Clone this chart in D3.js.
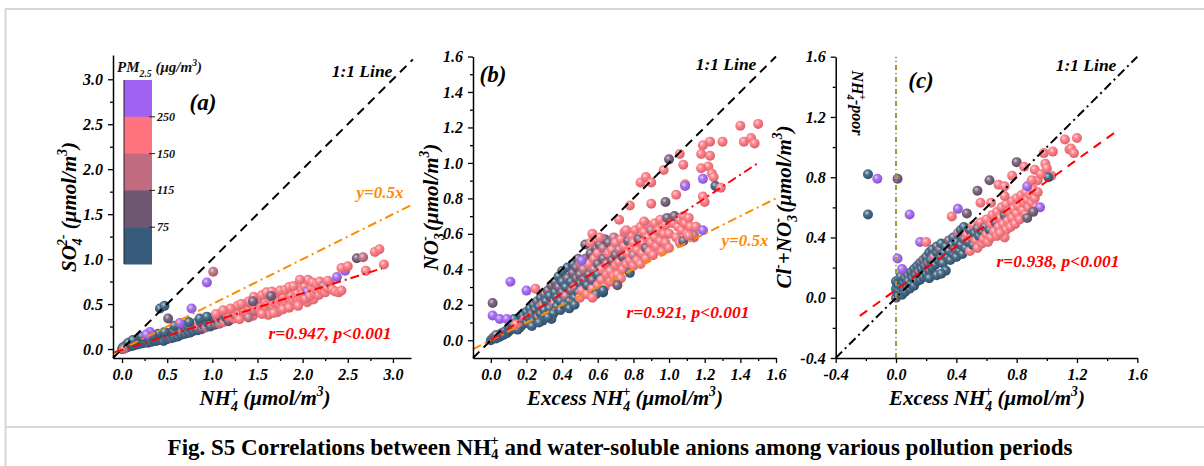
<!DOCTYPE html>
<html><head><meta charset="utf-8">
<script src="https://cdn.jsdelivr.net/npm/d3@7"></script>
<style>
body{margin:0;background:#fff;}
svg text{font-family:"Liberation Serif","Times New Roman",serif;}
</style></head><body>
<div id="chart"></div>
<script>
// PM2.5 classes: 0 <75, 1 75-115, 2 115-150, 3 150-250, 4 >250
const pmColors = ["#365b7b", "#6f5673", "#c26a80", "#ff737e", "#a062f0"];
const pmBreaks = ["75", "115", "150", "250"];

const ticksA = [0, 0.5, 1, 1.5, 2, 2.5, 3];
const minorA = [0.25, 0.75, 1.25, 1.75, 2.25, 2.75];
const ticksB = [0, 0.2, 0.4, 0.6, 0.8, 1.0, 1.2, 1.4, 1.6];
const minorB = [0.1, 0.3, 0.5, 0.7, 0.9, 1.1, 1.3, 1.5];
const ticksC = [-0.4, 0, 0.4, 0.8, 1.2, 1.6];
const minorC = [-0.2, 0.2, 0.6, 1.0, 1.4];

// panel (a): NH4+ vs SO4 2-   [x, y, class]
const pointsA = [
 [0.00,0.00,0],[0.01,0.02,0],[0.03,0.01,0],[0.04,0.03,0],[0.05,0.05,1],[0.06,0.02,0],[0.08,0.04,0],[0.09,0.06,0],
 [0.10,0.03,0],[0.11,0.05,0],[0.12,0.07,2],[0.13,0.04,0],[0.15,0.06,0],[0.16,0.08,0],[0.17,0.05,0],[0.19,0.07,0],
 [0.20,0.09,1],[0.21,0.06,0],[0.23,0.08,0],[0.24,0.10,0],[0.25,0.07,0],[0.27,0.09,0],[0.28,0.11,1],[0.29,0.07,0],
 [0.30,0.10,0],[0.02,0.00,2],[0.07,0.07,0],[0.14,0.09,0],[0.12,0.10,0],[0.22,0.14,0],
 [0.32,0.12,0],[0.33,0.08,0],[0.35,0.10,0],[0.36,0.13,1],[0.38,0.09,0],[0.39,0.12,0],[0.41,0.14,0],[0.42,0.10,0],
 [0.44,0.12,1],[0.45,0.15,0],[0.46,0.09,0],[0.48,0.13,0],[0.49,0.16,2],[0.50,0.11,0],[0.52,0.14,0],[0.53,0.18,0],
 [0.55,0.12,1],[0.56,0.16,0],[0.57,0.20,0],[0.58,0.13,0],[0.60,0.17,1],[0.40,0.17,0],[0.47,0.19,0],[0.34,0.15,0],
 [0.62,0.14,0],[0.63,0.19,0],[0.64,0.22,1],[0.66,0.16,0],[0.67,0.20,2],[0.69,0.24,0],[0.70,0.17,0],[0.72,0.21,1],
 [0.73,0.25,0],[0.75,0.18,0],[0.76,0.23,0],[0.78,0.27,2],[0.79,0.20,0],[0.81,0.24,1],[0.82,0.29,0],[0.84,0.21,0],
 [0.85,0.26,3],[0.87,0.30,0],[0.88,0.22,1],[0.90,0.27,0],[0.91,0.32,0],[0.93,0.24,2],[0.95,0.29,0],[0.96,0.33,1],
 [0.98,0.25,0],[1.00,0.30,3],[1.01,0.35,0],[1.03,0.27,1],[1.05,0.32,0],[1.06,0.36,3],[1.08,0.28,2],[1.10,0.33,0],
 [1.11,0.38,1],[1.13,0.30,3],[1.15,0.35,0],[1.17,0.40,3],[1.18,0.31,1],[1.20,0.36,3],[0.74,0.30,0],[0.86,0.34,0],
 [0.94,0.36,0],[1.04,0.39,3],[0.58,0.26,0],
 [1.22,0.41,3],[1.24,0.34,3],[1.25,0.38,2],[1.27,0.43,3],[1.29,0.36,3],[1.31,0.40,3],[1.33,0.45,3],[1.35,0.38,1],
 [1.36,0.42,3],[1.38,0.47,3],[1.40,0.40,3],[1.42,0.44,3],[1.44,0.49,3],[1.45,0.37,3],[1.47,0.42,2],[1.49,0.46,3],
 [1.51,0.51,3],[1.53,0.44,3],[1.55,0.48,3],[1.57,0.53,3],[1.58,0.41,3],[1.60,0.46,3],[1.62,0.50,3],[1.64,0.55,3],
 [1.65,0.44,2],[1.67,0.48,3],[1.69,0.52,3],[1.71,0.57,3],[1.72,0.41,3],[1.74,0.50,3],[1.76,0.54,3],[1.78,0.58,3],
 [1.80,0.47,3],[1.82,0.52,3],[1.84,0.56,3],[1.86,0.60,3],[1.88,0.50,3],[1.90,0.54,3],[1.92,0.58,3],[1.94,0.62,3],
 [1.96,0.53,3],[1.98,0.57,3],[1.99,0.66,3],[1.62,0.38,3],[1.70,0.62,3],[1.50,0.56,3],[1.39,0.52,3],[1.28,0.48,3],
 [1.32,0.50,3],[1.41,0.53,3],[1.46,0.58,3],[1.55,0.60,3],[1.60,0.63,3],[1.66,0.64,3],[1.75,0.65,3],[1.81,0.66,3],
 [1.85,0.69,3],[1.90,0.70,3],[1.55,0.39,3],[1.68,0.40,3],[1.78,0.44,3],[1.85,0.46,3],[1.95,0.48,3],[2.05,0.52,3],
 [2.12,0.55,3],[1.30,0.33,3],[1.40,0.35,2],[1.20,0.45,3],[1.12,0.43,3],[1.65,0.59,1],[1.45,0.53,1],
 [2.00,0.61,3],[2.02,0.70,3],[2.03,0.56,3],[2.05,0.64,4],[2.06,0.77,3],[2.08,0.59,3],[2.10,0.68,3],[2.11,0.74,3],
 [2.13,0.62,3],[2.15,0.66,3],[2.16,0.72,3],[2.18,0.60,3],[2.19,0.75,3],[2.21,0.65,3],[2.23,0.70,2],[2.25,0.63,3],
 [2.27,0.68,3],[2.30,0.73,2],[2.33,0.66,3],[2.36,0.64,3],[2.40,0.63,3],[2.43,0.65,3],[1.97,0.77,3],[2.28,0.76,3],
 [2.38,0.80,4],[2.47,0.87,4],[2.43,0.90,3],[2.50,0.92,3],[2.60,1.01,1],[2.67,1.02,2],[2.70,0.87,3],[2.80,1.08,3],
 [2.85,1.11,3],[2.90,0.94,3],
 [0.42,0.45,0],[0.47,0.48,0],[0.94,0.74,4],[1.01,0.86,2],[0.77,0.45,4],[0.51,0.34,1],[0.64,0.29,4],[0.31,0.19,4],
 [0.27,0.16,4]
];

// panel (b): excess NH4+ vs NO3-
const pointsB = [
 [0.00,0.00,0],[0.01,0.01,0],[0.02,0.02,0],[0.03,0.01,0],[0.04,0.03,0],[0.05,0.02,0],[0.06,0.04,0],[0.07,0.03,0],
 [0.08,0.05,0],[0.09,0.04,0],[0.10,0.07,0],[0.10,0.05,0],[0.03,0.03,1],
 [0.11,0.06,0],[0.12,0.09,0],[0.13,0.07,0],[0.14,0.10,0],[0.15,0.08,0],[0.15,0.12,0],[0.16,0.07,0],[0.17,0.11,0],
 [0.18,0.14,0],[0.18,0.09,0],[0.19,0.12,2],[0.20,0.10,0],[0.20,0.16,0],[0.13,0.12,0],[0.17,0.08,0],[0.15,0.06,0],
 [0.14,0.09,3],[0.21,0.13,0],[0.22,0.18,0],[0.22,0.09,0],[0.23,0.15,1],[0.24,0.20,0],[0.24,0.11,0],[0.25,0.17,0],
 [0.26,0.13,0],[0.26,0.22,1],[0.27,0.19,0],[0.28,0.15,0],[0.28,0.24,0],[0.29,0.11,0],[0.29,0.20,2],[0.30,0.17,0],
 [0.30,0.26,1],[0.23,0.08,0],[0.27,0.10,0],
 [0.31,0.14,0],[0.31,0.22,0],[0.32,0.28,1],[0.33,0.18,0],[0.33,0.25,0],[0.34,0.31,1],[0.35,0.15,0],[0.35,0.21,2],
 [0.36,0.27,0],[0.36,0.33,1],[0.37,0.19,0],[0.37,0.24,0],[0.38,0.30,1],[0.38,0.36,0],[0.39,0.17,0],[0.39,0.22,0],
 [0.40,0.27,1],[0.40,0.33,0],[0.40,0.39,0],[0.34,0.12,0],[0.32,0.13,0],
 [0.41,0.20,0],[0.42,0.25,2],[0.42,0.30,0],[0.43,0.35,1],[0.43,0.41,0],[0.44,0.22,0],[0.45,0.28,1],[0.45,0.33,0],
 [0.46,0.38,1],[0.46,0.43,0],[0.47,0.24,0],[0.47,0.30,2],[0.48,0.35,1],[0.48,0.41,1],[0.49,0.27,0],[0.49,0.46,1],
 [0.50,0.32,0],[0.50,0.37,1],[0.50,0.43,2],[0.44,0.18,0],[0.47,0.20,0],[0.50,0.24,3],
 [0.51,0.28,3],[0.52,0.34,1],[0.52,0.40,2],[0.53,0.46,1],[0.54,0.26,3],[0.54,0.31,0],[0.55,0.37,1],[0.55,0.43,3],
 [0.56,0.49,1],[0.57,0.29,3],[0.57,0.34,1],[0.58,0.40,2],[0.58,0.46,3],[0.59,0.52,1],[0.60,0.31,3],[0.60,0.37,0],
 [0.60,0.43,1],[0.60,0.49,3],[0.53,0.54,1],[0.56,0.55,3],[0.59,0.26,0],[0.57,0.24,3],
 [0.61,0.54,1],[0.62,0.34,3],[0.62,0.40,3],[0.63,0.46,1],[0.63,0.52,2],[0.64,0.30,3],[0.64,0.57,1],[0.65,0.37,3],
 [0.65,0.43,2],[0.66,0.49,3],[0.66,0.55,1],[0.67,0.33,3],[0.67,0.39,3],[0.68,0.45,1],[0.68,0.51,3],[0.69,0.58,2],
 [0.69,0.36,3],[0.70,0.42,3],[0.70,0.48,1],[0.70,0.55,3],[0.63,0.27,0],
 [0.71,0.37,3],[0.72,0.44,3],[0.72,0.51,2],[0.73,0.57,3],[0.74,0.40,3],[0.74,0.47,1],[0.75,0.53,3],[0.75,0.61,3],
 [0.76,0.43,3],[0.77,0.49,3],[0.77,0.56,1],[0.78,0.38,0],[0.78,0.45,3],[0.79,0.52,3],[0.79,0.59,3],[0.80,0.42,3],
 [0.80,0.48,2],[0.80,0.55,3],[0.76,0.62,3],[0.73,0.35,3],
 [0.81,0.62,3],[0.82,0.45,3],[0.82,0.51,3],[0.83,0.57,1],[0.84,0.43,3],[0.84,0.64,3],[0.85,0.49,3],[0.85,0.55,3],
 [0.86,0.61,3],[0.87,0.46,3],[0.87,0.52,1],[0.88,0.58,3],[0.88,0.65,3],[0.89,0.50,3],[0.90,0.55,3],[0.90,0.62,2],
 [0.86,0.67,3],[0.91,0.48,3],[0.92,0.58,3],[0.92,0.66,3],[0.93,0.53,3],[0.94,0.62,3],[0.95,0.56,3],[0.95,0.68,3],
 [0.96,0.50,3],[0.97,0.60,3],[0.98,0.65,3],[0.98,0.55,3],[0.99,0.69,1],[1.00,0.60,3],[1.00,0.52,3],
 [1.02,0.66,3],[1.03,0.70,1],[1.04,0.58,3],[1.05,0.64,3],[1.06,0.68,3],[1.07,0.62,3],[1.08,0.70,3],[1.09,0.66,3],
 [1.10,0.60,3],[1.11,0.69,3],[1.12,0.64,3],[1.14,0.58,3],[1.15,0.64,3],[1.06,0.55,3],
 [1.40,1.21,3],[1.50,1.22,3],[1.42,1.12,3],[1.46,1.14,3],[1.48,1.11,3],[1.30,1.12,3],[1.23,1.12,3],[1.19,1.10,3],
 [1.23,1.04,3],[1.22,0.98,3],[1.18,1.05,3],[1.18,0.97,3],[1.24,0.94,3],[1.25,0.92,3],[1.00,1.02,1],[1.08,0.99,3],
 [1.06,1.05,3],[0.97,0.96,3],[0.84,0.89,3],[0.87,0.92,3],[0.90,0.89,3],[1.09,0.88,3],[1.09,0.87,4],[1.19,0.91,4],
 [1.26,0.87,0],[1.29,0.86,3],[1.04,0.82,3],[1.19,0.81,3],[1.20,0.78,3],[0.90,0.77,3],[0.98,0.78,1],[0.78,0.76,3],
 [0.72,0.68,3],[0.57,0.60,3],[0.61,0.58,3],[0.51,0.45,4],[0.11,0.33,4],[0.20,0.28,4],[0.25,0.29,3],[0.01,0.21,1],
 [0.01,0.14,4],[0.05,0.12,4],[0.09,0.12,4],[1.14,0.59,2],[1.08,0.56,1],[1.11,0.59,3],[1.15,0.64,3],[1.19,0.62,4],
 [0.71,0.31,1],[0.63,0.28,0]
];

// panel (c): excess NH4+ vs Cl- + NO3-
const pointsC = [
 [0.00,0.00,1],[0.01,0.03,0],[0.00,0.06,0],[0.01,0.09,0],[0.00,0.11,0],[0.02,0.05,0],[0.03,0.08,0],[0.02,0.12,0],
 [0.04,0.02,0],[0.03,0.14,0],[0.05,0.06,0],[0.05,0.10,0],[0.06,0.13,0],[0.06,0.04,0],[0.07,0.08,0],[0.08,0.15,1],
 [0.08,0.11,0],[0.09,0.06,0],[0.10,0.17,0],[0.10,0.09,0],[0.11,0.13,0],[0.12,0.19,0],[0.12,0.08,0],[0.13,0.15,0],
 [0.14,0.11,0],[0.14,0.21,0],[0.15,0.17,1],[0.16,0.12,0],[0.16,0.23,0],[0.17,0.19,0],[0.18,0.14,0],[0.18,0.25,1],
 [0.19,0.21,0],[0.20,0.16,0],[0.20,0.27,0],[0.21,0.23,1],[0.22,0.18,0],[0.22,0.30,0],[0.23,0.25,0],[0.24,0.20,0],
 [0.24,0.32,0],[0.25,0.27,2],[0.26,0.22,0],[0.27,0.30,0],[0.27,0.34,0],[0.28,0.25,0],[0.29,0.32,1],[0.30,0.27,0],
 [0.30,0.36,0],[0.31,0.23,0],[0.32,0.30,0],[0.33,0.34,0],[0.33,0.18,0],[0.34,0.27,0],[0.35,0.38,1],[0.35,0.31,0],
 [0.36,0.25,0],[0.37,0.35,0],[0.38,0.29,0],[0.38,0.40,0],[0.39,0.32,1],[0.40,0.27,0],[0.40,0.37,0],[0.41,0.43,2],
 [0.42,0.31,0],[0.43,0.35,0],[0.43,0.45,0],[0.44,0.29,0],[0.45,0.39,1],[0.45,0.47,0],[0.46,0.33,0],[0.47,0.42,3],
 [0.48,0.37,0],[0.49,0.31,3],[0.49,0.45,0],[0.50,0.40,2],[0.51,0.35,0],[0.51,0.48,3],[0.52,0.43,0],[0.53,0.38,3],
 [0.54,0.46,1],[0.54,0.33,3],[0.55,0.41,0],[0.56,0.50,3],[0.57,0.36,3],[0.57,0.44,0],[0.58,0.39,3],[0.59,0.47,1],
 [0.60,0.42,3],[0.60,0.52,3],[0.61,0.37,3],[0.62,0.45,0],[0.63,0.49,3],[0.63,0.40,3],[0.64,0.55,3],[0.65,0.44,3],
 [0.66,0.50,1],[0.67,0.41,3],[0.67,0.57,3],[0.68,0.47,3],[0.69,0.53,3],[0.70,0.43,3],[0.70,0.60,3],[0.71,0.49,3],
 [0.72,0.55,1],[0.73,0.45,3],[0.73,0.62,3],[0.74,0.51,3],[0.75,0.57,3],[0.76,0.47,3],[0.77,0.64,3],[0.77,0.53,3],
 [0.78,0.59,3],[0.79,0.49,3],[0.80,0.56,3],[0.80,0.66,3],[0.81,0.61,3],[0.82,0.52,3],[0.83,0.68,3],[0.84,0.58,3],
 [0.85,0.63,3],[0.86,0.55,3],[0.86,0.70,3],[0.87,0.65,3],[0.88,0.60,3],[0.89,0.68,3],[0.90,0.63,3],[0.91,0.72,3],
 [0.92,0.66,3],[0.93,0.60,3],[0.94,0.70,3],[0.22,0.13,0],[0.27,0.15,0],[0.30,0.16,0],
 [-0.186,0.82,0],[-0.124,0.79,4],[0.01,0.79,1],[-0.186,0.553,0],[0.09,0.553,4],[0.16,0.37,4],[0.20,0.37,3],
 [0.01,0.26,4],[0.04,0.19,4],[0.41,0.59,4],[0.47,0.56,1],[0.37,0.54,3],[0.54,0.71,1],[0.62,0.78,1],[0.68,0.75,3],
 [0.72,0.74,3],[0.77,0.81,3],[0.80,0.90,1],[0.85,0.87,3],[0.87,0.74,4],[0.92,0.85,3],[0.98,0.96,3],[1.04,0.97,3],
 [0.99,0.89,3],[1.00,0.86,3],[1.12,1.05,3],[1.20,1.06,3],[1.15,0.985,3],[1.16,0.99,3],[1.18,0.96,3],[1.03,0.81,3],
 [1.01,0.80,0],[0.955,0.60,4],[0.91,0.57,1],[0.87,0.53,1],[0.56,0.63,3],[0.63,0.63,3],[0.72,0.40,3],[0.69,0.43,3],
 [0.72,0.675,3],[0.94,0.78,3],[0.96,0.82,3],[0.90,0.78,3]
];

// reference and fit lines, [x0, y0, x1, y1]
const lineA11 = [-0.1, -0.1, 3.22, 3.22];
const lineAhalf = [-0.1, -0.05, 3.2, 1.6];
const lineAfit = [-0.08, -0.035, 2.88, 0.897];
const lineB11 = [-0.1, -0.1, 1.6, 1.6];
const lineBhalf = [-0.1, -0.05, 1.6, 0.8];
const lineBfit = [0.0, 0.0, 1.5, 1.0];
const lineC11 = [-0.4, -0.4, 1.6, 1.6];
const lineCfit = [-0.24, -0.12, 1.48, 1.118];
const lineCpoor = [0, -0.4, 0, 1.6];

const W = 1204, H = 466;
const svg = d3.select("#chart").append("svg").attr("width", W).attr("height", H);

// frame
const frame = svg.append("g").attr("stroke", "#d6d6d6").attr("stroke-width", 2);
frame.append("line").attr("x1", 5).attr("x2", W).attr("y1", 9).attr("y2", 9);
frame.append("line").attr("x1", 5.5).attr("x2", 5.5).attr("y1", 9).attr("y2", H);
frame.append("line").attr("x1", 5).attr("x2", W).attr("y1", 427).attr("y2", 427);

// sphere gradients
const defs = svg.append("defs");
pmColors.forEach((c, i) => {
  const g = defs.append("radialGradient").attr("id", "ball" + i)
    .attr("cx", "40%").attr("cy", "38%").attr("r", "62%").attr("fx", "38%").attr("fy", "34%");
  g.append("stop").attr("offset", "0%").attr("stop-color", d3.interpolateRgb(c, "#ffffff")(0.7));
  g.append("stop").attr("offset", "40%").attr("stop-color", d3.interpolateRgb(c, "#ffffff")(0.12));
  g.append("stop").attr("offset", "100%").attr("stop-color", d3.color(c).darker(0.45));
});

function rich(sel, parts, size, subShift) {
  let shift = 0;
  parts.forEach(p => {
    const t = p[0], kind = p[1] || "n";
    let target = 0, fs = size, dx = 0;
    if (kind === "sub") { target = size * (subShift || 0.3); fs = size * 0.65; }
    if (kind === "sup") { target = -size * 0.42; fs = size * 0.65; }
    if (kind === "over") { target = -size * 0.42; fs = size * 0.65; dx = -size * 0.36; }
    const ts = sel.append("tspan").attr("dy", target - shift).attr("font-size", fs).text(t);
    if (dx) ts.attr("dx", dx);
    shift = target;
  });
}

function label(g, x, y, parts, size, color, rot, anchor) {
  const t = g.append("text")
    .attr("transform", "translate(" + x + "," + y + ")" + (rot ? " rotate(" + rot + ")" : ""))
    .attr("text-anchor", anchor || "middle")
    .attr("font-weight", "bold").attr("font-style", "italic")
    .attr("fill", color || "#000").attr("font-size", size);
  rich(t, parts, size);
  return t;
}

function panel(cfg) {
  const x = d3.scaleLinear().domain(cfg.xd).range(cfg.xr);
  const y = d3.scaleLinear().domain(cfg.yd).range(cfg.yr);
  const g = svg.append("g");
  const fmt = d => d.toFixed(1);

  // points
  g.append("g").selectAll("circle").data(cfg.points).enter().append("circle")
    .attr("cx", d => x(d[0])).attr("cy", d => y(d[1])).attr("r", 5)
    .attr("fill", d => "url(#ball" + d[2] + ")");

  // lines
  cfg.lines.forEach(l => {
    g.append("line")
      .attr("x1", x(l.d[0])).attr("y1", y(l.d[1])).attr("x2", x(l.d[2])).attr("y2", y(l.d[3]))
      .attr("stroke", l.color).attr("stroke-width", l.w || 2).attr("stroke-dasharray", l.dash);
  });

  // axes
  const xb = cfg.yr[0], yl = cfg.xr[0];
  const ax = g.append("g").attr("transform", "translate(0," + xb + ")")
    .call(d3.axisBottom(x).tickValues(cfg.ticks).tickFormat(fmt).tickSize(5).tickSizeOuter(0).tickPadding(6));
  g.append("g").attr("transform", "translate(0," + xb + ")")
    .call(d3.axisBottom(x).tickValues(cfg.minor).tickFormat("").tickSize(3).tickSizeOuter(0))
    .select(".domain").remove();
  const ay = g.append("g").attr("transform", "translate(" + yl + ",0)")
    .call(d3.axisLeft(y).tickValues(cfg.ticks).tickFormat(fmt).tickSize(5).tickSizeOuter(0).tickPadding(5));
  g.append("g").attr("transform", "translate(" + yl + ",0)")
    .call(d3.axisLeft(y).tickValues(cfg.minor).tickFormat("").tickSize(3).tickSizeOuter(0))
    .select(".domain").remove();
  g.selectAll(".domain").attr("stroke-width", 1.5);
  g.selectAll(".tick line").attr("stroke-width", 1.3);
  [ax, ay].forEach(a => a.selectAll("text")
    .attr("font-family", "Liberation Serif, serif").attr("font-size", 16)
    .attr("font-weight", "bold").attr("font-style", "italic").attr("fill", "#000"));
  return { g, x, y };
}

// ---- panel (a)
const pa = panel({
  xd: [-0.1, 3.2], xr: [113, 411], yd: [-0.1, 3.27], yr: [358, 55],
  ticks: ticksA, minor: minorA, points: pointsA,
  lines: [
    { d: lineA11, color: "#000", dash: "9,6" },
    { d: lineAhalf, color: "#ff8c00", dash: "9,4,2,4" },
    { d: lineAfit, color: "#ff0000", dash: "9,4,2,4" }
  ]
});
label(pa.g, 265, 405, [["NH"], ["4", "sub"], ["+", "over"], [" (μmol/m"], ["3", "sup"], [")"]], 21);
label(pa.g, 76, 207, [["SO"], ["4", "sub"], ["2-", "over"], [" (μmol/m"], ["3", "sup"], [")"]], 21, "#000", -90);
label(pa.g, 203, 110, [["(a)"]], 23);
label(pa.g, 362, 77, [["1:1 Line"]], 17.5);
label(pa.g, 380, 198, [["y=0.5x"]], 17, "#ff8c00");
label(pa.g, 330, 339, [["r=0.947, p<0.001"]], 17.5, "#ff0000");

// colour bar
const bar = pa.g.append("g");
const bandH = 36.8, barTop = 80, barX = 124, barW = 28;
const bandOrder = [4, 3, 2, 1, 0];
bandOrder.forEach((c, i) => {
  bar.append("rect").attr("x", barX).attr("y", barTop + i * bandH)
    .attr("width", barW).attr("height", bandH + 0.5).attr("fill", pmColors[c]);
});
bar.append("line").attr("x1", barX).attr("x2", barX).attr("y1", barTop).attr("y2", barTop + 5 * bandH)
  .attr("stroke", "#222").attr("stroke-width", 1);
pmBreaks.slice().reverse().forEach((b, i) => {
  const yy = barTop + (i + 1) * bandH;
  bar.append("line").attr("x1", barX + barW - 3).attr("x2", barX + barW + 3).attr("y1", yy).attr("y2", yy)
    .attr("stroke", "#222").attr("stroke-width", 1);
  label(bar, barX + barW + 5, yy + 4, [[b]], 12, "#111", 0, "start");
});
label(bar, 117, 72, [["PM"], ["2.5", "sub"], [" (μg/m"], ["3", "sup"], [")"]], 15, "#111", 0, "start");

// ---- panel (b)
const pb = panel({
  xd: [-0.1, 1.6], xr: [473, 776], yd: [-0.1, 1.6], yr: [358, 56.5],
  ticks: ticksB, minor: minorB, points: pointsB,
  lines: [
    { d: lineB11, color: "#000", dash: "9,6" },
    { d: lineBhalf, color: "#ff8c00", dash: "9,4,2,4" },
    { d: lineBfit, color: "#ff0000", dash: "9,4,2,4" }
  ]
});
label(pb.g, 625, 405, [["Excess NH"], ["4", "sub"], ["+", "over"], [" (μmol/m"], ["3", "sup"], [")"]], 21);
label(pb.g, 438, 207, [["NO"], ["3", "sub"], ["-", "over"], [" (μmol/m"], ["3", "sup"], [")"]], 21, "#000", -90);
label(pb.g, 493, 82, [["(b)"]], 23);
label(pb.g, 726, 70, [["1:1 Line"]], 17.5);
label(pb.g, 745, 246, [["y=0.5x"]], 17, "#ff8c00");
label(pb.g, 688, 318, [["r=0.921, p<0.001"]], 17.5, "#ff0000");

// ---- panel (c)
const pc = panel({
  xd: [-0.4, 1.6], xr: [835.7, 1137.3], yd: [-0.4, 1.6], yr: [358, 56.7],
  ticks: ticksC, minor: minorC, points: pointsC,
  lines: [
    { d: lineC11, color: "#000", dash: "9,4,2,4" },
    { d: lineCfit, color: "#ff0000", dash: "9,7" },
    { d: lineCpoor, color: "#9c9a2e", dash: "5,3,1,3", w: 2 }
  ]
});
label(pc.g, 987, 405, [["Excess NH"], ["4", "sub"], ["+", "over"], [" (μmol/m"], ["3", "sup"], [")"]], 21);
label(pc.g, 791, 207, [["Cl"], ["-", "sup"], ["+NO"], ["3", "sub"], ["-", "over"], [" (μmol/m"], ["3", "sup"], [")"]], 21, "#000", -90);
label(pc.g, 921, 88, [["(c)"]], 23);
label(pc.g, 1086, 71, [["1:1 Line"]], 17.5);
label(pc.g, 1058, 267, [["r=0.938, p<0.001"]], 17.5, "#ff0000");
label(pc.g, 852, 103, [["NH"], ["4", "sub"], ["+", "over"], ["-poor"]], 16, "#000", 90);

// caption
const cap = svg.append("text").attr("x", 620).attr("y", 455).attr("text-anchor", "middle")
  .attr("font-weight", "bold").attr("font-size", 23).attr("fill", "#000");
rich(cap, [["Fig. S5 Correlations between NH"], ["4", "sub"], ["+", "over"], [" and water-soluble anions among various pollution periods"]], 23, 0.18);
</script>
</body></html>
